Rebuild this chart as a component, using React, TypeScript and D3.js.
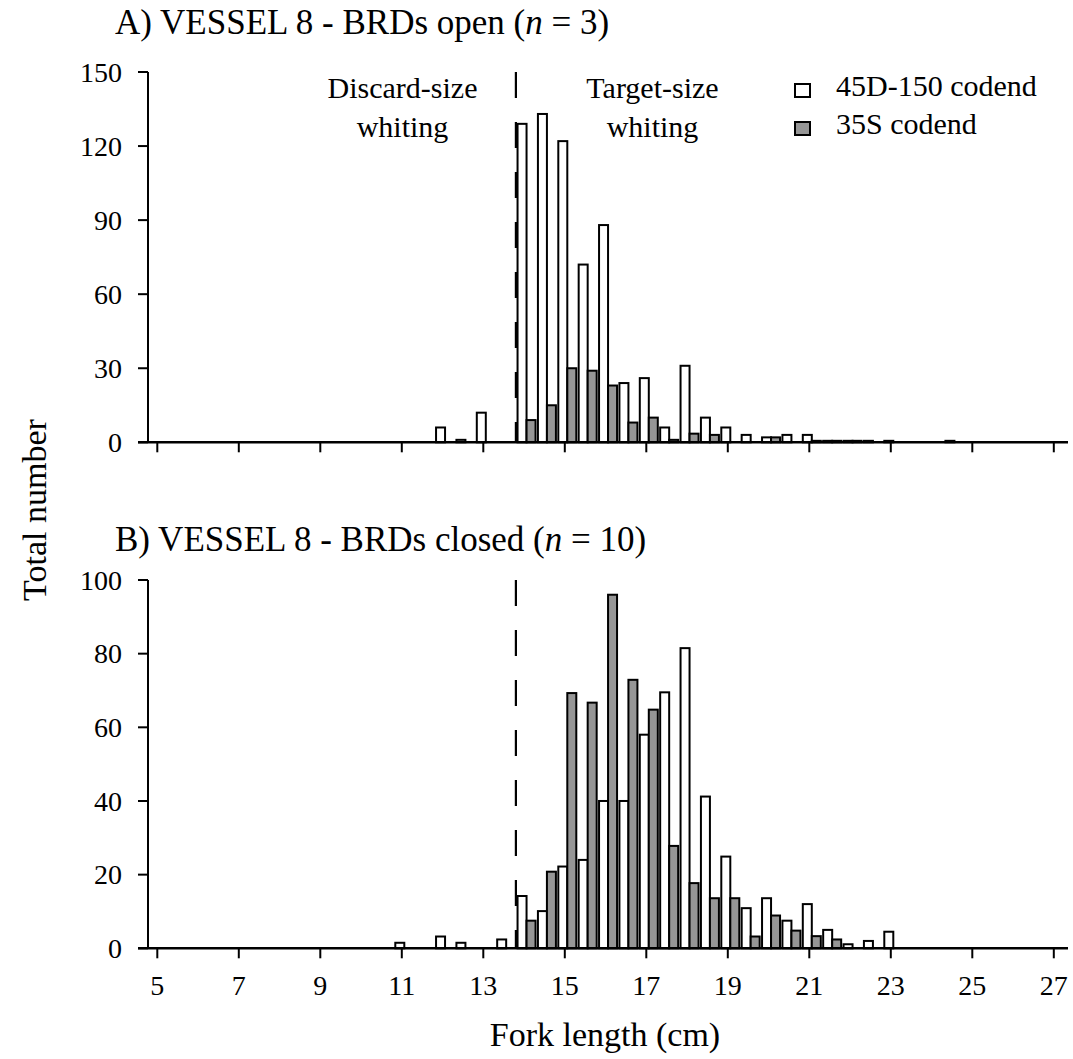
import React from "react";
import * as d3 from "d3";

const bins = [11, 11.5, 12, 12.5, 13, 13.5, 14, 14.5, 15, 15.5, 16, 16.5, 17, 17.5, 18, 18.5, 19, 19.5, 20, 20.5, 21, 21.5, 22, 22.5, 23, 23.5, 24, 24.5];

const openWhite = [0, 0, 6, 1, 12, 0, 129, 133, 122, 72, 88, 24, 26, 6, 31, 10, 6, 3, 2, 3, 3, 0.6, 0.6, 0.6, 0.6, 0, 0, 0.6];
const openGray = [0, 0, 0, 0, 0, 0, 9, 15, 30, 29, 23, 8, 10, 1, 3.5, 3, 0, 0, 2, 0, 0.6, 0.6, 0.6, 0, 0, 0, 0, 0];

const closedWhite = [1.5, 0, 3.2, 1.5, 0, 2.4, 14.2, 10.1, 22.2, 24, 40, 40, 58, 69.5, 81.5, 41.2, 24.9, 10.9, 13.6, 7.5, 12, 5, 1.1, 2, 4.5, 0, 0, 0];
const closedGray = [0, 0, 0, 0, 0, 0, 7.5, 20.8, 69.3, 66.7, 96, 72.9, 64.8, 27.8, 17.7, 13.6, 13.6, 3.2, 8.9, 4.8, 3.3, 2.4, 0, 0, 0, 0, 0, 0];

const xTicks = [5, 7, 9, 11, 13, 15, 17, 19, 21, 23, 25, 27];
const yTicksA = [0, 30, 60, 90, 120, 150];
const yTicksB = [0, 20, 40, 60, 80, 100];
const discardLimit = 13.8;

const seriesNames = ["45D-150 codend", "35S codend"];
const FONT = "'Liberation Serif', 'Times New Roman', Times, serif";
const GRAY = "#969696";

const x = d3.scaleLinear().domain([5, 27]).range([157.3, 1053.8]);
const BAR_W = 9;
const OFFSET = 2.5;

type PanelProps = {
  y: d3.ScaleLinear<number, number>;
  ticks: number[];
  white: number[];
  gray: number[];
  title: React.ReactNode;
  titleY: number;
  showTickLabels: boolean;
};

function Panel({ y, ticks, white, gray, title, titleY, showTickLabels }: PanelProps) {
  const y0 = y(0);
  const yTop = y(ticks[ticks.length - 1]);
  const axisLeft = 148;
  return (
    <g>
      <text x={115} y={titleY} fontSize={35} fontFamily={FONT}>
        {title}
      </text>
      {/* bars */}
      {bins.map((b, i) => {
        const c = x(b) + OFFSET;
        const out: React.ReactNode[] = [];
        if (white[i] > 0) {
          out.push(
            <rect key={"w" + i} x={c - BAR_W} y={y(white[i])} width={BAR_W} height={y0 - y(white[i])} fill="#ffffff" stroke="#000" strokeWidth={2} />
          );
        }
        if (gray[i] > 0) {
          out.push(
            <rect key={"g" + i} x={c} y={y(gray[i])} width={BAR_W} height={y0 - y(gray[i])} fill={GRAY} stroke="#000" strokeWidth={2} />
          );
        }
        return <g key={i}>{out}</g>;
      })}
      {/* dashed line */}
      <line x1={x(discardLimit)} x2={x(discardLimit)} y1={yTop} y2={y0} stroke="#000" strokeWidth={2.2} strokeDasharray="26,24" />
      {/* axes */}
      <line x1={axisLeft} x2={axisLeft} y1={yTop} y2={y0} stroke="#000" strokeWidth={2} />
      <line x1={axisLeft - 10} x2={1068} y1={y0} y2={y0} stroke="#000" strokeWidth={2.4} />
      {ticks.map((t) => (
        <g key={"yt" + t}>
          <line x1={axisLeft - 10} x2={axisLeft} y1={y(t)} y2={y(t)} stroke="#000" strokeWidth={2} />
          <text x={122} y={y(t)} dy="0.35em" textAnchor="end" fontSize={28} fontFamily={FONT}>
            {t}
          </text>
        </g>
      ))}
      {xTicks.map((t) => (
        <g key={"xt" + t}>
          <line x1={x(t)} x2={x(t)} y1={y0} y2={y0 + 10} stroke="#000" strokeWidth={2} />
          {showTickLabels && (
            <text x={x(t)} y={y0 + 47} textAnchor="middle" fontSize={28} fontFamily={FONT}>
              {t}
            </text>
          )}
        </g>
      ))}
    </g>
  );
}

export default function App() {
  const yA = d3.scaleLinear().domain([0, 150]).range([442.3, 72]);
  const yB = d3.scaleLinear().domain([0, 100]).range([948.3, 580]);
  return (
    <svg width={1073} height={1059} style={{ position: "absolute", left: 0, top: 0 }} fontFamily={FONT}>
      <rect width={1073} height={1059} fill="#fff" />
      <Panel
        y={yA}
        ticks={yTicksA}
        white={openWhite}
        gray={openGray}
        titleY={34}
        showTickLabels={false}
        title={
          <>
            A) VESSEL 8 - BRDs open (<tspan fontStyle="italic">n</tspan> = 3)
          </>
        }
      />
      <Panel
        y={yB}
        ticks={yTicksB}
        white={closedWhite}
        gray={closedGray}
        titleY={551}
        showTickLabels={true}
        title={
          <>
            B) VESSEL 8 - BRDs closed (<tspan fontStyle="italic">n</tspan> = 10)
          </>
        }
      />
      {/* annotations */}
      <g fontSize={30} fontFamily={FONT} textAnchor="middle">
        <text x={402.5} y={98}>Discard-size</text>
        <text x={402.5} y={137}>whiting</text>
        <text x={652.5} y={98}>Target-size</text>
        <text x={652.5} y={137}>whiting</text>
      </g>
      {/* legend */}
      <g>
        <rect x={795} y={84} width={15} height={13} fill="#fff" stroke="#000" strokeWidth={2} />
        <text x={836} y={96} fontSize={30} fontFamily={FONT}>{seriesNames[0]}</text>
        <rect x={795} y={122} width={15} height={13} fill={GRAY} stroke="#000" strokeWidth={2} />
        <text x={836} y={134} fontSize={30} fontFamily={FONT}>{seriesNames[1]}</text>
      </g>
      {/* axis titles */}
      <text x={605} y={1046} textAnchor="middle" fontSize={34} fontFamily={FONT}>
        Fork length (cm)
      </text>
      <text transform="translate(46,510) rotate(-90)" textAnchor="middle" fontSize={34} fontFamily={FONT}>
        Total number
      </text>
    </svg>
  );
}
